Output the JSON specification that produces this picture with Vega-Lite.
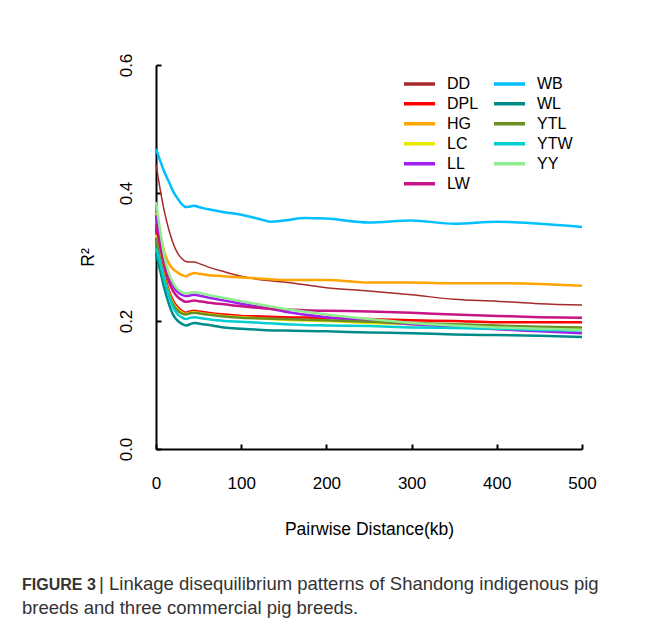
{
  "$schema": "https://vega.github.io/schema/vega-lite/v6.json",
  "width": 426,
  "height": 384,
  "autosize": {"type": "none"},
  "padding": {"left": 156, "top": 65, "right": 68, "bottom": 180},
  "background": "white",
  "config": {
    "view": {"stroke": null},
    "font": "Liberation Sans",
    "axis": {"grid": false, "domainColor": "black", "domainWidth": 2, "tickColor": "black", "tickWidth": 2, "labelColor": "black", "titleColor": "black", "labelFont": "Liberation Sans", "titleFont": "Liberation Sans", "titleFontWeight": "normal"}
  },
  "title": {
    "text": "FIGURE 3",
    "subtitle": ["\u200b\u00a0\u00a0\u00a0\u00a0\u00a0\u00a0\u00a0\u00a0\u00a0\u00a0\u00a0\u00a0\u00a0\u00a0\u00a0| Linkage disequilibrium patterns of Shandong indigenous pig", "breeds and three commercial pig breeds."],
    "orient": "bottom",
    "anchor": "start",
    "frame": "group",
    "dx": -134,
    "offset": 39,
    "font": "Liberation Sans",
    "fontSize": 16,
    "fontWeight": "bold",
    "color": "#333333",
    "subtitleFont": "Liberation Sans",
    "subtitleFontSize": 18.5,
    "subtitleColor": "#333333",
    "subtitleLineHeight": 24,
    "subtitlePadding": -17.5
  },
  "data": {"values": [
    {"s":"DD","d":0,"r":0.445},{"s":"DD","d":5,"r":0.405},{"s":"DD","d":10,"r":0.370},{"s":"DD","d":15,"r":0.343},{"s":"DD","d":20,"r":0.322},{"s":"DD","d":25,"r":0.307},{"s":"DD","d":30,"r":0.298},{"s":"DD","d":35,"r":0.293},{"s":"DD","d":40,"r":0.292},{"s":"DD","d":45,"r":0.292},{"s":"DD","d":50,"r":0.290},{"s":"DD","d":60,"r":0.285},{"s":"DD","d":80,"r":0.277},{"s":"DD","d":100,"r":0.270},{"s":"DD","d":125,"r":0.264},{"s":"DD","d":150,"r":0.261},{"s":"DD","d":200,"r":0.252},{"s":"DD","d":250,"r":0.247},{"s":"DD","d":300,"r":0.241},{"s":"DD","d":350,"r":0.234},{"s":"DD","d":400,"r":0.231},{"s":"DD","d":450,"r":0.227},{"s":"DD","d":500,"r":0.225},
    {"s":"DPL","d":0,"r":0.345},{"s":"DPL","d":5,"r":0.305},{"s":"DPL","d":10,"r":0.272},{"s":"DPL","d":15,"r":0.248},{"s":"DPL","d":20,"r":0.232},{"s":"DPL","d":25,"r":0.222},{"s":"DPL","d":30,"r":0.216},{"s":"DPL","d":35,"r":0.213},{"s":"DPL","d":40,"r":0.215},{"s":"DPL","d":45,"r":0.216},{"s":"DPL","d":50,"r":0.215},{"s":"DPL","d":60,"r":0.213},{"s":"DPL","d":80,"r":0.210},{"s":"DPL","d":100,"r":0.208},{"s":"DPL","d":125,"r":0.207},{"s":"DPL","d":150,"r":0.206},{"s":"DPL","d":200,"r":0.205},{"s":"DPL","d":250,"r":0.203},{"s":"DPL","d":300,"r":0.201},{"s":"DPL","d":350,"r":0.200},{"s":"DPL","d":400,"r":0.198},{"s":"DPL","d":450,"r":0.198},{"s":"DPL","d":500,"r":0.198},
    {"s":"HG","d":0,"r":0.370},{"s":"HG","d":5,"r":0.335},{"s":"HG","d":10,"r":0.307},{"s":"HG","d":15,"r":0.290},{"s":"HG","d":20,"r":0.281},{"s":"HG","d":25,"r":0.276},{"s":"HG","d":30,"r":0.272},{"s":"HG","d":35,"r":0.270},{"s":"HG","d":40,"r":0.273},{"s":"HG","d":45,"r":0.275},{"s":"HG","d":50,"r":0.274},{"s":"HG","d":60,"r":0.272},{"s":"HG","d":80,"r":0.270},{"s":"HG","d":100,"r":0.268},{"s":"HG","d":125,"r":0.266},{"s":"HG","d":150,"r":0.264},{"s":"HG","d":200,"r":0.264},{"s":"HG","d":250,"r":0.260},{"s":"HG","d":300,"r":0.260},{"s":"HG","d":350,"r":0.259},{"s":"HG","d":400,"r":0.259},{"s":"HG","d":450,"r":0.258},{"s":"HG","d":500,"r":0.255},
    {"s":"LC","d":0,"r":0.335},{"s":"LC","d":5,"r":0.298},{"s":"LC","d":10,"r":0.267},{"s":"LC","d":15,"r":0.244},{"s":"LC","d":20,"r":0.228},{"s":"LC","d":25,"r":0.219},{"s":"LC","d":30,"r":0.214},{"s":"LC","d":35,"r":0.211},{"s":"LC","d":40,"r":0.213},{"s":"LC","d":45,"r":0.214},{"s":"LC","d":50,"r":0.213},{"s":"LC","d":60,"r":0.211},{"s":"LC","d":80,"r":0.208},{"s":"LC","d":100,"r":0.206},{"s":"LC","d":125,"r":0.204},{"s":"LC","d":150,"r":0.202},{"s":"LC","d":200,"r":0.200},{"s":"LC","d":250,"r":0.197},{"s":"LC","d":300,"r":0.195},{"s":"LC","d":350,"r":0.193},{"s":"LC","d":400,"r":0.191},{"s":"LC","d":450,"r":0.190},{"s":"LC","d":500,"r":0.189},
    {"s":"LL","d":0,"r":0.365},{"s":"LL","d":5,"r":0.325},{"s":"LL","d":10,"r":0.293},{"s":"LL","d":15,"r":0.270},{"s":"LL","d":20,"r":0.255},{"s":"LL","d":25,"r":0.246},{"s":"LL","d":30,"r":0.241},{"s":"LL","d":35,"r":0.239},{"s":"LL","d":40,"r":0.240},{"s":"LL","d":45,"r":0.241},{"s":"LL","d":50,"r":0.240},{"s":"LL","d":60,"r":0.237},{"s":"LL","d":80,"r":0.232},{"s":"LL","d":100,"r":0.227},{"s":"LL","d":125,"r":0.221},{"s":"LL","d":150,"r":0.215},{"s":"LL","d":200,"r":0.206},{"s":"LL","d":250,"r":0.200},{"s":"LL","d":300,"r":0.195},{"s":"LL","d":350,"r":0.191},{"s":"LL","d":400,"r":0.187},{"s":"LL","d":450,"r":0.184},{"s":"LL","d":500,"r":0.181},
    {"s":"LW","d":0,"r":0.350},{"s":"LW","d":5,"r":0.315},{"s":"LW","d":10,"r":0.285},{"s":"LW","d":15,"r":0.262},{"s":"LW","d":20,"r":0.247},{"s":"LW","d":25,"r":0.238},{"s":"LW","d":30,"r":0.233},{"s":"LW","d":35,"r":0.230},{"s":"LW","d":40,"r":0.231},{"s":"LW","d":45,"r":0.232},{"s":"LW","d":50,"r":0.231},{"s":"LW","d":60,"r":0.229},{"s":"LW","d":80,"r":0.226},{"s":"LW","d":100,"r":0.223},{"s":"LW","d":125,"r":0.220},{"s":"LW","d":150,"r":0.218},{"s":"LW","d":200,"r":0.216},{"s":"LW","d":250,"r":0.215},{"s":"LW","d":300,"r":0.213},{"s":"LW","d":350,"r":0.210},{"s":"LW","d":400,"r":0.208},{"s":"LW","d":450,"r":0.206},{"s":"LW","d":500,"r":0.205},
    {"s":"WB","d":0,"r":0.469},{"s":"WB","d":5,"r":0.450},{"s":"WB","d":10,"r":0.432},{"s":"WB","d":15,"r":0.418},{"s":"WB","d":20,"r":0.403},{"s":"WB","d":25,"r":0.392},{"s":"WB","d":30,"r":0.383},{"s":"WB","d":35,"r":0.378},{"s":"WB","d":40,"r":0.379},{"s":"WB","d":45,"r":0.380},{"s":"WB","d":50,"r":0.378},{"s":"WB","d":60,"r":0.375},{"s":"WB","d":80,"r":0.370},{"s":"WB","d":100,"r":0.366},{"s":"WB","d":125,"r":0.358},{"s":"WB","d":135,"r":0.355},{"s":"WB","d":150,"r":0.357},{"s":"WB","d":175,"r":0.361},{"s":"WB","d":200,"r":0.360},{"s":"WB","d":250,"r":0.354},{"s":"WB","d":300,"r":0.357},{"s":"WB","d":350,"r":0.352},{"s":"WB","d":400,"r":0.355},{"s":"WB","d":450,"r":0.352},{"s":"WB","d":500,"r":0.347},
    {"s":"WL","d":0,"r":0.305},{"s":"WL","d":5,"r":0.278},{"s":"WL","d":10,"r":0.250},{"s":"WL","d":15,"r":0.227},{"s":"WL","d":20,"r":0.210},{"s":"WL","d":25,"r":0.201},{"s":"WL","d":30,"r":0.196},{"s":"WL","d":35,"r":0.193},{"s":"WL","d":40,"r":0.195},{"s":"WL","d":45,"r":0.197},{"s":"WL","d":50,"r":0.196},{"s":"WL","d":60,"r":0.194},{"s":"WL","d":80,"r":0.190},{"s":"WL","d":100,"r":0.188},{"s":"WL","d":125,"r":0.186},{"s":"WL","d":150,"r":0.185},{"s":"WL","d":200,"r":0.184},{"s":"WL","d":250,"r":0.182},{"s":"WL","d":300,"r":0.181},{"s":"WL","d":350,"r":0.179},{"s":"WL","d":400,"r":0.178},{"s":"WL","d":450,"r":0.177},{"s":"WL","d":500,"r":0.175},
    {"s":"YTL","d":0,"r":0.330},{"s":"YTL","d":5,"r":0.295},{"s":"YTL","d":10,"r":0.265},{"s":"YTL","d":15,"r":0.242},{"s":"YTL","d":20,"r":0.226},{"s":"YTL","d":25,"r":0.217},{"s":"YTL","d":30,"r":0.212},{"s":"YTL","d":35,"r":0.210},{"s":"YTL","d":40,"r":0.212},{"s":"YTL","d":45,"r":0.213},{"s":"YTL","d":50,"r":0.212},{"s":"YTL","d":60,"r":0.210},{"s":"YTL","d":80,"r":0.207},{"s":"YTL","d":100,"r":0.205},{"s":"YTL","d":125,"r":0.204},{"s":"YTL","d":150,"r":0.203},{"s":"YTL","d":200,"r":0.201},{"s":"YTL","d":250,"r":0.199},{"s":"YTL","d":300,"r":0.197},{"s":"YTL","d":350,"r":0.195},{"s":"YTL","d":400,"r":0.193},{"s":"YTL","d":450,"r":0.191},{"s":"YTL","d":500,"r":0.190},
    {"s":"YTW","d":0,"r":0.315},{"s":"YTW","d":5,"r":0.290},{"s":"YTW","d":10,"r":0.262},{"s":"YTW","d":15,"r":0.240},{"s":"YTW","d":20,"r":0.222},{"s":"YTW","d":25,"r":0.211},{"s":"YTW","d":30,"r":0.206},{"s":"YTW","d":35,"r":0.203},{"s":"YTW","d":40,"r":0.205},{"s":"YTW","d":45,"r":0.206},{"s":"YTW","d":50,"r":0.205},{"s":"YTW","d":60,"r":0.203},{"s":"YTW","d":80,"r":0.200},{"s":"YTW","d":100,"r":0.199},{"s":"YTW","d":125,"r":0.197},{"s":"YTW","d":150,"r":0.195},{"s":"YTW","d":200,"r":0.193},{"s":"YTW","d":250,"r":0.192},{"s":"YTW","d":300,"r":0.190},{"s":"YTW","d":350,"r":0.189},{"s":"YTW","d":400,"r":0.188},{"s":"YTW","d":450,"r":0.186},{"s":"YTW","d":500,"r":0.185},
    {"s":"YY","d":0,"r":0.386},{"s":"YY","d":5,"r":0.340},{"s":"YY","d":10,"r":0.300},{"s":"YY","d":15,"r":0.275},{"s":"YY","d":20,"r":0.260},{"s":"YY","d":25,"r":0.250},{"s":"YY","d":30,"r":0.245},{"s":"YY","d":35,"r":0.243},{"s":"YY","d":40,"r":0.244},{"s":"YY","d":45,"r":0.245},{"s":"YY","d":50,"r":0.244},{"s":"YY","d":60,"r":0.241},{"s":"YY","d":80,"r":0.236},{"s":"YY","d":100,"r":0.231},{"s":"YY","d":125,"r":0.225},{"s":"YY","d":150,"r":0.219},{"s":"YY","d":200,"r":0.210},{"s":"YY","d":250,"r":0.203},{"s":"YY","d":300,"r":0.197},{"s":"YY","d":350,"r":0.193},{"s":"YY","d":400,"r":0.190},{"s":"YY","d":450,"r":0.188},{"s":"YY","d":500,"r":0.186}
  ]},
  "mark": {"type": "line", "interpolate": "monotone"},
  "encoding": {
    "x": {"field": "d", "type": "quantitative", "scale": {"domain": [0, 500], "nice": false, "zero": false},
      "axis": {"values": [0, 100, 200, 300, 400, 500], "title": "Pairwise Distance(kb)", "labelFontSize": 17, "titleFontSize": 17.5, "tickSize": -5, "labelPadding": 31, "titlePadding": 29, "labelFlush": false}},
    "y": {"field": "r", "type": "quantitative", "scale": {"domain": [0, 0.6], "nice": false},
      "axis": {"values": [0, 0.2, 0.4, 0.6], "format": ".1f", "title": "R²", "labelFontSize": 17, "titleFontSize": 17.5, "tickSize": -5, "labelAngle": -90, "labelAlign": "center", "labelBaseline": "bottom", "labelPadding": 26, "titlePadding": 20, "labelFlush": false}},
    "color": {"field": "s", "type": "nominal",
      "scale": {"domain": ["DD", "WB", "DPL", "WL", "HG", "YTL", "LC", "YTW", "LL", "YY", "LW"],
        "range": ["#a52a2a", "#00bfff", "#ff0000", "#008b8b", "#ffa500", "#6b8e23", "#e8e800", "#00ced1", "#a020f0", "#90ee90", "#c71585"]},
      "legend": {"title": null, "orient": "none", "legendX": 246, "legendY": 9, "columns": 2, "direction": "horizontal", "symbolType": "stroke", "symbolSize": 961, "symbolStrokeWidth": 3.5, "clipHeight": 19.5, "labelFontSize": 16, "labelColor": "black", "labelFont": "Liberation Sans", "labelOffset": 10, "rowPadding": 0, "columnPadding": 13, "padding": 0}},
    "strokeWidth": {"condition": {"test": "datum.s === 'DD'", "value": 1.5}, "value": 2.5}
  }
}
